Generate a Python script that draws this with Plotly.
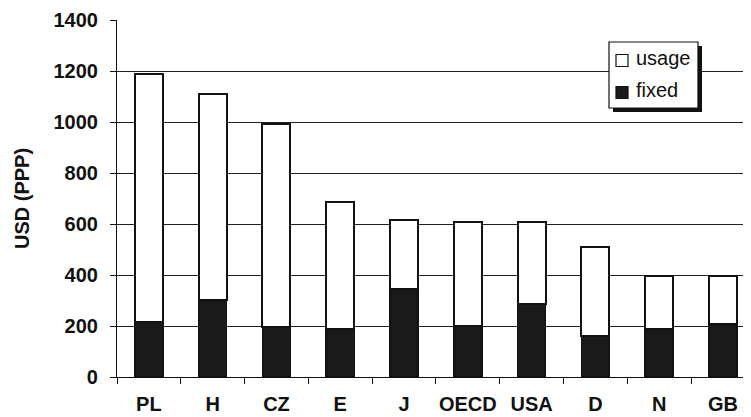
import plotly.graph_objects as go

categories = ["PL", "H", "CZ", "E", "J", "OECD", "USA", "D", "N", "GB"]
fixed = [216, 301, 196, 190, 347, 200, 288, 161, 190, 207]
usage = [972, 807, 795, 497, 268, 408, 320, 349, 208, 188]
y_ticks = [0, 200, 400, 600, 800, 1000, 1200, 1400]
legend_labels = ["usage", "fixed"]
legend_colors = ["white", "#1a1a1a"]

FONT = "Liberation Sans, Arial, sans-serif"
INK = "#111"

fig = go.Figure()
fig.add_trace(go.Bar(
    x=categories, y=fixed, name="fixed",
    marker=dict(color="#1a1a1a", line=dict(color=INK, width=1.5)),
    width=0.44, showlegend=False,
))
fig.add_trace(go.Bar(
    x=categories, y=usage, name="usage",
    marker=dict(color="white", line=dict(color=INK, width=2)),
    width=0.44, showlegend=False,
))

# the page body has an 8px margin; the figure starts at (8, 8) in the window
OFF = 8
WIN_W, WIN_H = 751, 417
W, H = WIN_W - OFF, WIN_H - OFF
PLOT_L, PLOT_T, PLOT_B = 117, 20, 377  # window pixels of the plot area
L, T = PLOT_L - OFF, PLOT_T - OFF
B = WIN_H - PLOT_B
R = 0
pw, ph = WIN_W - PLOT_L, PLOT_B - PLOT_T

def px_x(x):
    return (x - PLOT_L) / pw
def px_y(y):
    return (PLOT_B - y) / ph

# manual legend box (window pixel positions of the reference legend)
lx0, ly0, lx1, ly1 = 609, 42, 698, 108
shapes = [
    dict(type="rect", xref="paper", yref="paper",
         x0=px_x(lx0 + 4), x1=px_x(lx1 + 4), y0=px_y(ly1 + 4), y1=px_y(ly0 + 4),
         fillcolor=INK, line=dict(width=0), layer="above"),
    dict(type="rect", xref="paper", yref="paper",
         x0=px_x(lx0), x1=px_x(lx1), y0=px_y(ly1), y1=px_y(ly0),
         fillcolor="white", line=dict(color=INK, width=1.2), layer="above"),
]
annotations = []
item_y = [60.5, 92.5]
for lab, col, yc in zip(legend_labels, legend_colors, item_y):
    shapes.append(dict(type="rect", xref="paper", yref="paper",
                       x0=px_x(616), x1=px_x(628), y0=px_y(yc + 6), y1=px_y(yc - 6),
                       fillcolor=col, line=dict(color=INK, width=1.2), layer="above"))
    annotations.append(dict(xref="paper", yref="paper", x=px_x(634), y=px_y(yc - 2),
                            xanchor="left", yanchor="middle", showarrow=False,
                            text=lab, font=dict(family=FONT, size=20, color=INK)))

fig.update_layout(
    width=W, height=H,
    margin=dict(l=L, r=R, t=T, b=B, pad=0),
    paper_bgcolor="white", plot_bgcolor="white",
    barmode="stack",
    font=dict(family=FONT, color=INK),
    showlegend=False,
    shapes=shapes,
    annotations=annotations,
    xaxis=dict(
        range=[-0.5, 9.44],
        automargin=False,
        showline=True, linecolor=INK, linewidth=1.2,
        ticks="outside", tickson="boundaries", ticklen=6, tickcolor=INK,
        tickangle=0,
        tickfont=dict(family=FONT, size=20, color=INK, weight="bold"),
        ticklabelstandoff=9,
        showgrid=False,
    ),
    yaxis=dict(
        range=[0, 1400],
        automargin=False,
        tickvals=y_ticks,
        showline=True, linecolor=INK, linewidth=1.2,
        ticks="outside", ticklen=6, tickcolor=INK,
        tickfont=dict(family=FONT, size=20, color=INK, weight="bold"),
        ticklabelstandoff=8,
        showgrid=True, gridcolor="#222", gridwidth=1,
        zeroline=False,
        title=dict(text="USD (PPP)", font=dict(family=FONT, size=20, color=INK, weight="bold"), standoff=18),
    ),
)

fig.write_html("out.html")
